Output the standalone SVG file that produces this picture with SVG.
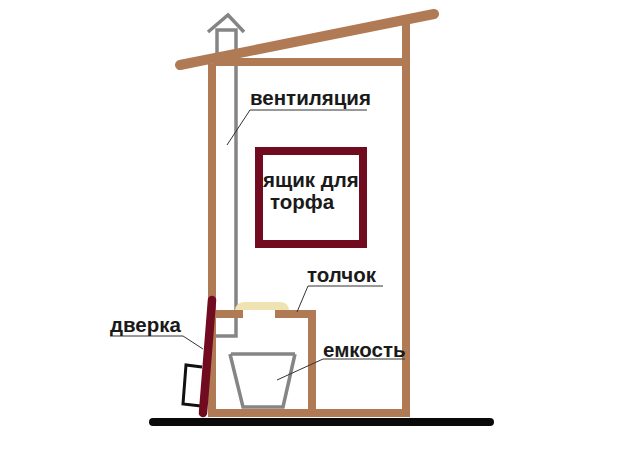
<svg xmlns="http://www.w3.org/2000/svg" width="620" height="454" viewBox="0 0 620 454">
<style>
.t{font-family:"Liberation Sans",Arial,sans-serif;font-size:20.5px;fill:#1a1a1a;font-weight:bold}
.w{fill:none;stroke:#b07a55;stroke-width:8}
.r{fill:none;stroke:#b07a55;stroke-width:10;stroke-linecap:round}
.g{fill:none;stroke:#858585;stroke-width:3.5}
.l{fill:none;stroke:#333;stroke-width:1}
</style>
<rect width="620" height="454" fill="#fff"/>
<g id="chimney">
<path class="g" d="M217 62V30H236V336H216"/>
<path class="g" d="M208 32L228 15L244 32"/>
</g>
<g id="seat"><path d="M235 310Q236 302 245 302H280Q288 302 289 310Z" fill="#efe3b4"/></g>
<g id="house">
<path class="w" d="M212 64V413H406V16"/>
<path class="w" d="M212 62H402"/>
<path class="w" d="M216 314H243"/>
<path class="w" d="M275 314H312V413"/>
<path class="r" d="M180 65L434 14"/>
</g>
<g id="bucket">
<path class="g" stroke-width="3" d="M231 354H295M230 354L243 407H283L295 354"/>
</g>
<g id="ground"><path d="M153 422H490" stroke="#0a0a0a" stroke-width="8" stroke-linecap="round" fill="none"/></g>
<g id="handle"><path d="M202 367L186 365L183 404L201 406" fill="none" stroke="#111" stroke-width="3"/></g>
<g id="door"><path d="M212 300L203 413" stroke="#700b20" stroke-width="8.5" stroke-linecap="round" fill="none"/></g>
<g id="box">
<rect x="259" y="151" width="104" height="93" fill="none" stroke="#700b20" stroke-width="8"/>
<text class="t" x="263" y="187">ящик для</text>
<text class="t" x="270" y="209">торфа</text>
</g>
<g id="connectors">
<path class="l" d="M367 110H250L227 145"/>
<path class="l" d="M383 286H308L297 312"/>
<path class="l" d="M405 359H323L277 380"/>
<path class="l" d="M110 336H183L203 349"/>
</g>
<g id="labels">
<text class="t" x="250" y="105">вентиляция</text>
<text class="t" x="307" y="282">толчок</text>
<text class="t" x="323" y="357">емкость</text>
<text class="t" x="110" y="332">дверка</text>
</g>
</svg>
